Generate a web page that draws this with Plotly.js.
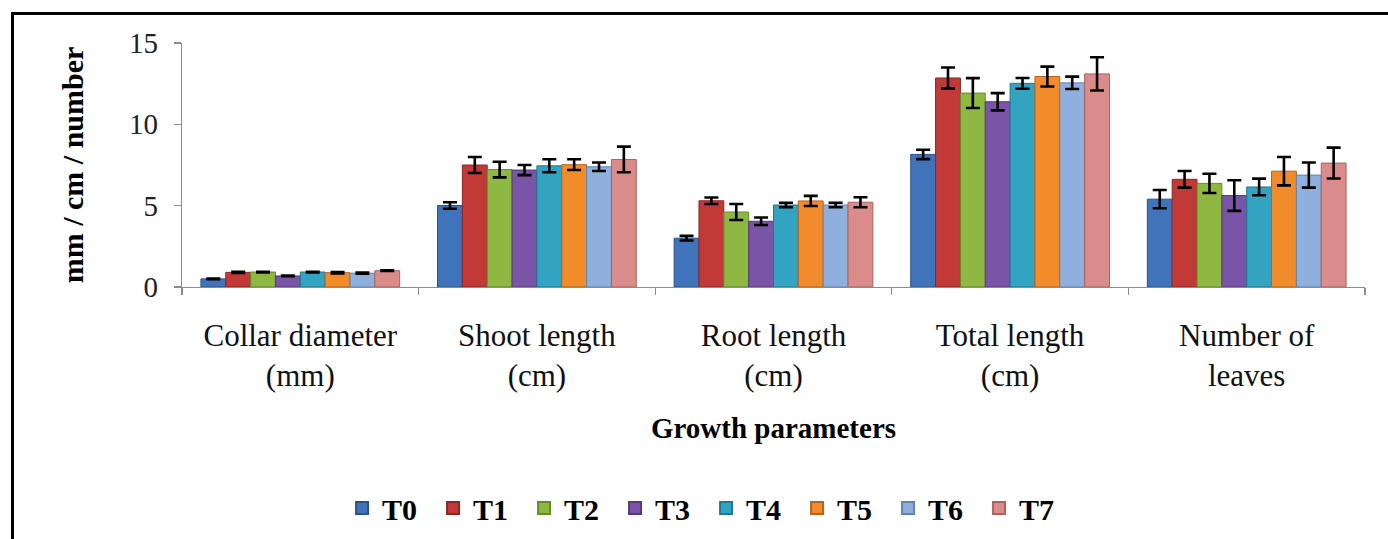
<!DOCTYPE html>
<html>
<head>
<meta charset="utf-8">
<script src="https://cdn.plot.ly/plotly-3.0.1.min.js"></script>
<style>
  html, body { margin: 0; padding: 0; background: #fff; }
  #wrap { position: relative; width: 1388px; height: 539px; overflow: hidden; }
  #frame { position: absolute; left: 11px; top: 12px; width: 1400px; height: 600px;
           border-left: 3px solid #000; border-top: 3px solid #000; box-sizing: border-box; pointer-events: none; }
  #chart { position: absolute; left: 0; top: 0; width: 1388px; height: 539px; }
</style>
</head>
<body>
<div id="wrap">
  <div id="chart"></div>
  <div id="frame"></div>
</div>
<script>
// ---- Data ----
const categories = [
  "Collar diameter<br>(mm)",
  "Shoot length<br>(cm)",
  "Root length<br>(cm)",
  "Total length<br>(cm)",
  "Number of<br>leaves"
];
const seriesNames = ["T0", "T1", "T2", "T3", "T4", "T5", "T6", "T7"];

const T0 = [0.50, 5.01, 3.00, 8.15, 5.40];
const T1 = [0.90, 7.50, 5.30, 12.85, 6.62];
const T2 = [0.92, 7.22, 4.61, 11.92, 6.37];
const T3 = [0.68, 7.19, 4.04, 11.39, 5.62];
const T4 = [0.92, 7.45, 5.04, 12.52, 6.15];
const T5 = [0.88, 7.52, 5.29, 12.94, 7.12];
const T6 = [0.85, 7.39, 5.04, 12.55, 6.88];
const T7 = [1.00, 7.84, 5.21, 13.10, 7.62];

const T0err = [0.02, 0.20, 0.14, 0.29, 0.56];
const T1err = [0.04, 0.49, 0.20, 0.64, 0.51];
const T2err = [0.02, 0.48, 0.49, 0.92, 0.59];
const T3err = [0.02, 0.31, 0.23, 0.53, 0.94];
const T4err = [0.02, 0.40, 0.14, 0.33, 0.51];
const T5err = [0.04, 0.33, 0.31, 0.61, 0.87];
const T6err = [0.04, 0.26, 0.14, 0.38, 0.77];
const T7err = [0.02, 0.79, 0.31, 1.02, 0.95];

const yTickVals = [0, 5, 10, 15];

// ---- Styles ----
const fills   = ["#3f74ba", "#c23a37", "#8fb843", "#7a54a6", "#33a3c2", "#f28b2a", "#8fb0dd", "#d98c8a"];
const outlines= ["#2a5288", "#8c2624", "#658a2c", "#553a77", "#217890", "#b8631a", "#6283b0", "#a86260"];

const values = [T0, T1, T2, T3, T4, T5, T6, T7];
const errors = [T0err, T1err, T2err, T3err, T4err, T5err, T6err, T7err];

const traces = seriesNames.map((name, i) => ({
  type: "bar",
  name: name,
  x: categories,
  y: values[i],
  marker: { color: fills[i], line: { color: outlines[i], width: 1 } },
  error_y: { type: "data", array: errors[i], visible: true, color: "#000", thickness: 2.6, width: 7 },
  hoverinfo: "skip"
}));

const serif = "Liberation Serif, Times New Roman, serif";

const layout = {
  width: 1388,
  height: 539,
  margin: { l: 182, r: 23, t: 43, b: 252, autoexpand: false },
  paper_bgcolor: "rgba(0,0,0,0)",
  plot_bgcolor: "rgba(0,0,0,0)",
  barmode: "group",
  bargap: 0.16,
  bargroupgap: 0,
  showlegend: true,
  legend: {
    orientation: "h",
    x: 0.443, xanchor: "center",
    y: -0.906, yanchor: "middle",
    font: { family: serif, size: 30, color: "#000", weight: "bold" },
    entrywidth: 46, entrywidthmode: "pixels",
    itemsizing: "constant",
    traceorder: "normal"
  },
  xaxis: {
    type: "category",
    automargin: false,
    showline: true, linecolor: "#8c8c8c", linewidth: 1.3,
    ticks: "outside", tickson: "boundaries", ticklen: 7, tickcolor: "#8c8c8c", tickwidth: 1.3,
    tickfont: { family: serif, size: 31, color: "#111" },
    ticklabelstandoff: 20,
    showgrid: false, zeroline: false,
    title: { text: "Growth parameters", font: { family: serif, size: 29, color: "#000", weight: "bold" }, standoff: 26 }
  },
  yaxis: {
    range: [0, 15],
    automargin: false,
    tickvals: yTickVals,
    ticktext: yTickVals.map(String),
    showline: true, linecolor: "#8c8c8c", linewidth: 1.3,
    ticks: "outside", ticklen: 7, tickcolor: "#8c8c8c", tickwidth: 1.3,
    tickfont: { family: serif, size: 29, color: "#222" },
    ticklabelstandoff: 10,
    showgrid: false, zeroline: false,
    title: { text: "mm / cm / number", font: { family: serif, size: 30, color: "#000", weight: "bold" }, standoff: 36 }
  }
};

Plotly.newPlot("chart", traces, layout, { displayModeBar: false, staticPlot: true });
</script>
</body>
</html>
